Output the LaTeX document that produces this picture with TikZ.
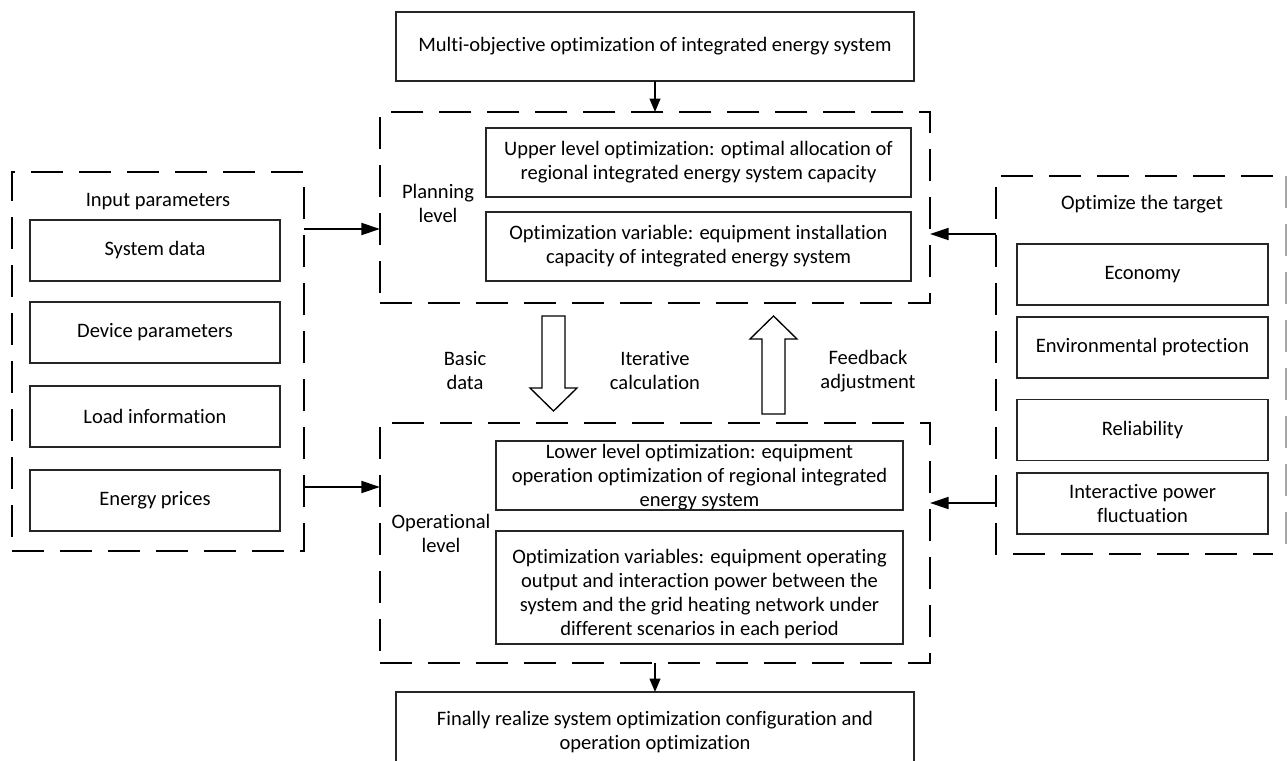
\documentclass[tikz,border=0pt]{standalone}
\usepackage{fontspec}
\setmainfont{Carlito}[Ligatures={NoCommon}]
\usetikzlibrary{arrows.meta}
\begin{document}
\begin{tikzpicture}[x=0.75pt,y=-0.75pt,
  every node/.style={font=\fontsize{15.4}{18}\selectfont, align=center, inner sep=0pt, outer sep=0pt},
  box/.style={draw=black!85, line width=0.9pt},
  group/.style={draw=black, line width=1.6pt, dash pattern=on 24pt off 12pt},
  link/.style={line width=1.4pt, -{Triangle[length=10pt,width=8pt]}},
  sidelink/.style={line width=1.4pt, -{Triangle[length=14pt,width=9pt]}},
  hollow/.style={draw=black, line width=1pt, fill=white},
]
\useasboundingbox (0,0) rectangle (1288,760);

% top and bottom boxes
\node[box, minimum width=388.5pt, minimum height=51.75pt] (top) at (655,46.5) {Multi-objective optimization of integrated energy system};
\node[box, minimum width=388.5pt, minimum height=60pt] (final) at (655,732) {Finally realize system optimization configuration and\\operation optimization};

% planning level
\node[group, minimum width=412.5pt, minimum height=143.25pt] (plan) at (655,207.5) {};
\node[box, minimum width=318.75pt, minimum height=51.75pt] (upper) at (698.5,162.5) {Upper level optimization: optimal allocation of\\regional integrated energy system capacity};
\node[box, minimum width=318.75pt, minimum height=51.75pt] (pvar) at (698.5,246.5) {Optimization variable: equipment installation\\capacity of integrated energy system};
\node (planlbl) at (438,203) {Planning\\level};

% operational level
\node[group, minimum width=412.5pt, minimum height=180pt] (oper) at (655,543) {};
\node[box, minimum width=305.25pt, minimum height=51.75pt] (lower) at (699.5,475.5) {};
\node (lowertxt) at (699.5,477) {Lower level optimization: equipment\\operation optimization of regional integrated\\energy system};
\node[box, minimum width=305.25pt, minimum height=84.75pt] (ovar) at (699.5,587.5) {};
\node (ovartxt) at (699.5,594.5) {Optimization variables: equipment operating\\output and interaction power between the\\system and the grid heating network under\\different scenarios in each period};
\node (operlbl) at (441,533) {Operational\\level};

% block arrows and their labels
\draw[hollow] (542,316) -- (565,316) -- (565,388) -- (577,388) -- (553.5,411) -- (530,388) -- (542,388) -- cycle;
\draw[hollow] (762,414) -- (785,414) -- (785,339) -- (797,339) -- (773.5,316) -- (750,339) -- (762,339) -- cycle;
\node (basic) at (465,371) {Basic\\data};
\node (iter) at (655,371) {Iterative\\calculation};
\node (feed) at (868,371) {Feedback\\adjustment};

% input parameters
\node[group, minimum width=219pt, minimum height=284.25pt] (inputs) at (158,361.5) {};
\node (inlbl) at (158,202) {Input parameters};
\node[box, minimum width=187.5pt, minimum height=45.75pt] (sysdata) at (155,250.5) {System data};
\node[box, minimum width=187.5pt, minimum height=45.75pt] (devpar) at (155,332.5) {Device parameters};
\node[box, minimum width=187.5pt, minimum height=45.75pt] (load) at (155,416.5) {Load information};
\node[box, minimum width=187.5pt, minimum height=45.75pt] (price) at (155,500.5) {Energy prices};

% optimization targets
\node[minimum width=207.75pt, minimum height=283.5pt] (target) at (1134.5,365) {};
\draw[group] (target.north east) -- (target.north west) -- (target.south west) -- (target.south east);
\coordinate (edgeT) at (1286,176);
\coordinate (edgeB) at (1286,554);
\draw[draw=black!35, line width=1.2pt, dash pattern=on 24pt off 12pt] (edgeT) -- (edgeB);
\node (tgtlbl) at (1142,204) {Optimize the target};
\node[box, minimum width=188.25pt, minimum height=45.75pt] (econ) at (1142.5,274.5) {Economy};
\node[box, minimum width=188.25pt, minimum height=45.75pt] (env) at (1142.5,347.5) {Environmental protection};
\node[box, minimum width=188.25pt, minimum height=45.75pt] (rel) at (1142.5,430) {Reliability};
\node[box, minimum width=188.25pt, minimum height=45.75pt] (fluc) at (1142.5,503.5) {Interactive power\\fluctuation};

% connectors
\draw[link] (top.south) -- (plan.north);
\draw[link] (oper.south) -- (final.north);
\draw[sidelink] (inputs.east |- 0,229) -- (plan.west |- 0,229);
\draw[sidelink] (inputs.east |- 0,487) -- (oper.west |- 0,487);
\draw[sidelink] (target.west |- 0,234) -- (plan.east |- 0,234);
\draw[sidelink] (target.west |- 0,503) -- (oper.east |- 0,503);
\end{tikzpicture}
\end{document}
